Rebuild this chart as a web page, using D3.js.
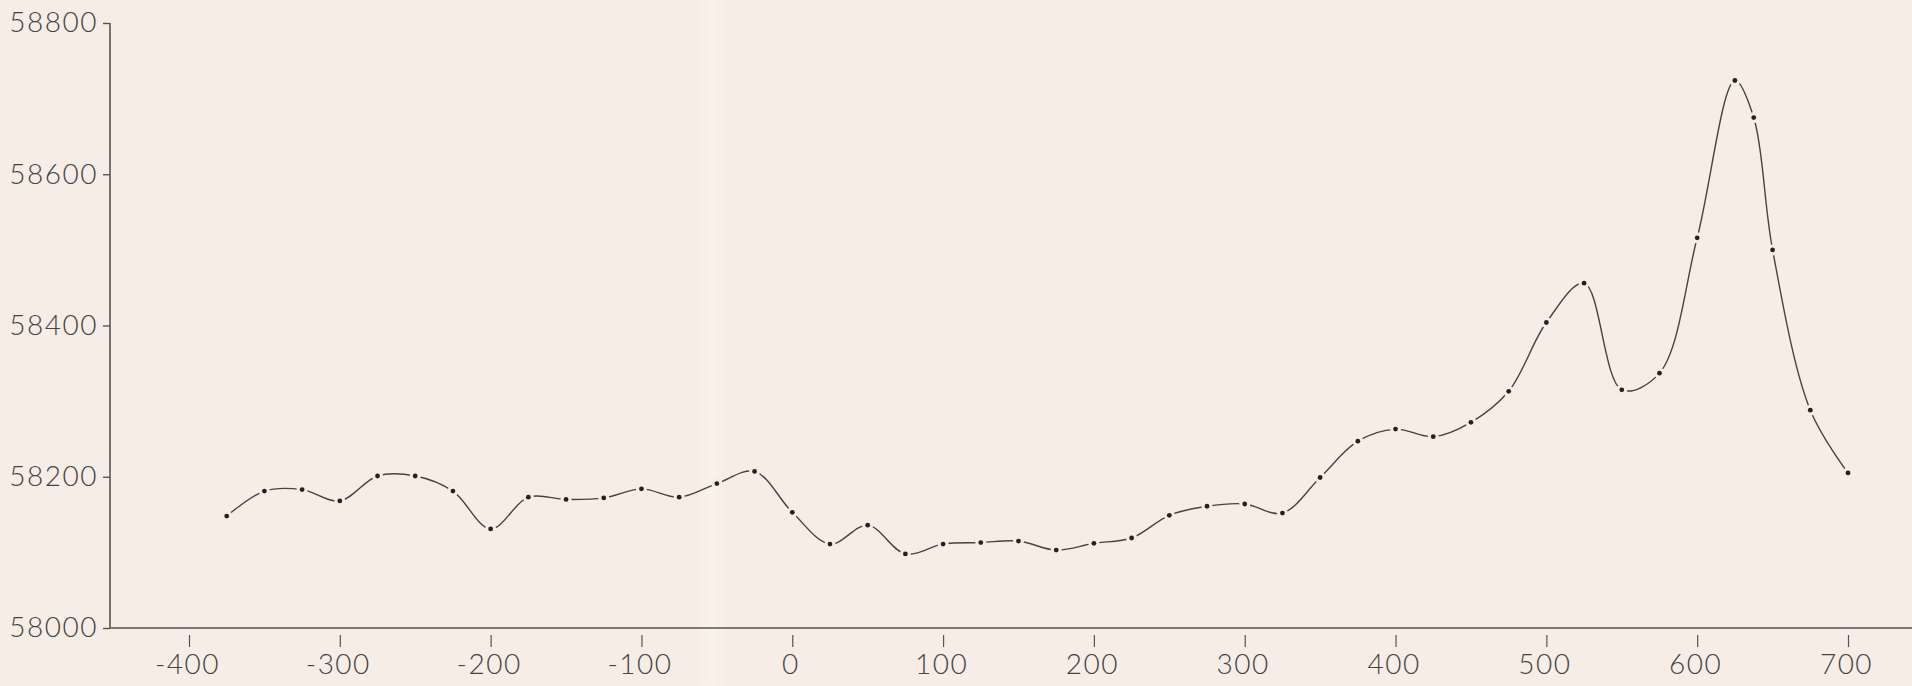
<!DOCTYPE html>
<html>
<head>
    <meta charset="utf-8">
    <title>Profile</title>
    <script src="https://d3js.org/d3.v7.min.js"></script>
    <style>
        body { margin: 0; background: #f6ede6; }
        svg { display: block; }
        .tick text { font-family: Lato, "Open Sans", "DejaVu Sans", sans-serif; font-weight: 300; fill: #444; }
    </style>
</head>
<body>
    <script>
        // distances along the profile
        const xValues = [-375, -350, -325, -300, -275, -250, -225, -200, -175, -150,
                         -125, -100, -75, -50, -25, 0, 25, 50, 75, 100,
                         125, 150, 175, 200, 225, 250, 275, 300, 325, 350,
                         375, 400, 425, 450, 475, 500, 525, 550, 575, 600,
                         625, 637.5, 650, 675, 700];
        // measured values
        const yValues = [58148, 58181, 58183, 58168, 58201, 58201, 58181, 58131, 58173, 58170,
                         58172, 58184, 58173, 58191, 58207, 58153, 58111, 58136, 58098, 58111,
                         58113, 58115, 58103, 58112, 58119, 58149, 58161, 58164, 58152, 58199,
                         58247, 58263, 58253, 58272, 58313, 58404, 58456, 58315, 58337, 58516,
                         58724, 58675, 58500, 58288, 58205];
        const xTicks = [-400, -300, -200, -100, 0, 100, 200, 300, 400, 500, 600, 700];
        const yTicks = [58000, 58200, 58400, 58600, 58800];

        const width = 1912, height = 686;
        const bg = "#f6ede6";

        const svg = d3.select("body").append("svg")
            .attr("width", width)
            .attr("height", height);

        // paper fold
        const grad = svg.append("defs").append("linearGradient").attr("id", "fold");
        grad.append("stop").attr("offset", "0%").attr("stop-color", "#faf3ec").attr("stop-opacity", 0);
        grad.append("stop").attr("offset", "50%").attr("stop-color", "#faf3ec").attr("stop-opacity", 0.9);
        grad.append("stop").attr("offset", "100%").attr("stop-color", "#faf3ec").attr("stop-opacity", 0);
        svg.append("rect").attr("x", 0).attr("y", 0).attr("width", width).attr("height", height).attr("fill", bg);
        svg.append("rect").attr("x", 698).attr("y", 0).attr("width", 28).attr("height", height).attr("fill", "url(#fold)");

        const x = d3.scaleLinear().domain([-400, 700]).range([189, 1848]);
        const y = d3.scaleLinear().domain([58000, 58800]).range([628, 23]);
        const axisX = 110;

        // axis lines
        svg.append("line")
            .attr("x1", axisX).attr("x2", width)
            .attr("y1", y(58000)).attr("y2", y(58000))
            .attr("stroke", "#555").attr("stroke-width", 1.6);
        svg.append("line")
            .attr("x1", axisX).attr("x2", axisX)
            .attr("y1", y(58800)).attr("y2", y(58000))
            .attr("stroke", "#555").attr("stroke-width", 1.6);

        const xAxis = svg.append("g")
            .attr("transform", `translate(0,${y(58000) + 7})`)
            .call(d3.axisBottom(x).tickValues(xTicks).tickSize(12).tickPadding(7)
                .tickFormat(d => String(d)));
        xAxis.select(".domain").remove();
        xAxis.selectAll(".tick line").attr("stroke", "#555").attr("stroke-width", 1.2);
        xAxis.selectAll(".tick text")
            .attr("font-size", 28).attr("letter-spacing", 1.5).attr("dx", -2);

        const yAxis = svg.append("g")
            .attr("transform", `translate(${axisX},0)`)
            .call(d3.axisLeft(y).tickValues(yTicks).tickSize(7).tickPadding(5)
                .tickFormat(d => String(d)));
        yAxis.select(".domain").remove();
        yAxis.selectAll(".tick line").attr("stroke", "#555").attr("stroke-width", 1.4);
        yAxis.selectAll(".tick text")
            .attr("font-size", 28).attr("letter-spacing", 1.5);

        const points = xValues.map((d, i) => [d, yValues[i]]);

        const line = d3.line()
            .x(d => x(d[0]))
            .y(d => y(d[1]))
            .curve(d3.curveCatmullRom.alpha(0.5));

        svg.append("path")
            .datum(points)
            .attr("d", line)
            .attr("fill", "none")
            .attr("stroke", "#444")
            .attr("stroke-width", 1.4);

        // little breaks in the line around each point
        svg.selectAll("circle.gap")
            .data(points)
            .join("circle")
            .attr("class", "gap")
            .attr("cx", d => x(d[0]))
            .attr("cy", d => y(d[1]))
            .attr("r", 5.5)
            .attr("fill", bg);

        svg.selectAll("circle.dot")
            .data(points)
            .join("circle")
            .attr("class", "dot")
            .attr("cx", d => x(d[0]))
            .attr("cy", d => y(d[1]))
            .attr("r", 2.4)
            .attr("fill", "#222");
    </script>
</body>
</html>
